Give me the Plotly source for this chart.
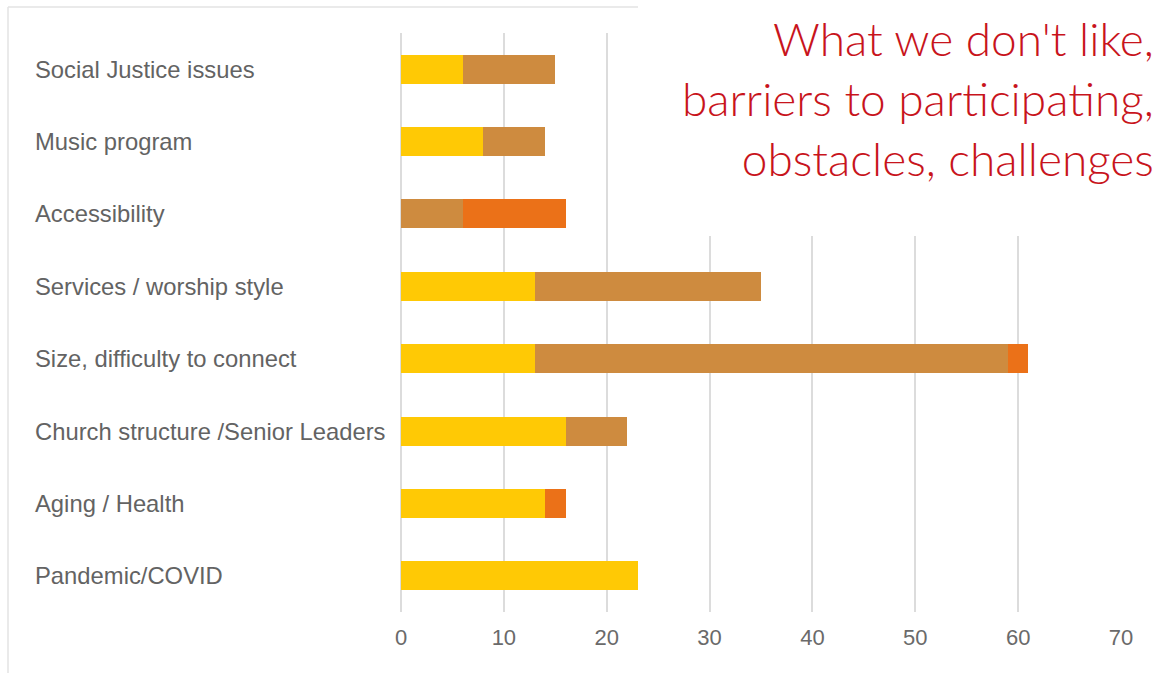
import plotly.graph_objects as go

categories = [
    "Social Justice issues",
    "Music program",
    "Accessibility",
    "Services / worship style",
    "Size, difficulty to connect",
    "Church structure /Senior Leaders",
    "Aging / Health",
    "Pandemic/COVID",
]
series_a = [6, 8, 0, 13, 13, 16, 14, 23]
series_b = [9, 6, 6, 22, 46, 6, 0, 0]
series_c = [0, 0, 10, 0, 2, 0, 2, 0]
series_names = ["Series 1", "Series 2", "Series 3"]
series_colors = ["#FFC905", "#CE8B3F", "#EB7118"]
x_ticks = [0, 10, 20, 30, 40, 50, 60, 70]
title_lines = ["What we don't like,", "barriers to participating,", "obstacles, challenges"]

W, H = 1158, 673
L, R, T, B = 401, 1121, 33, 612

fig = go.Figure()
for name, vals, col in zip(series_names, [series_a, series_b, series_c], series_colors):
    fig.add_trace(go.Bar(
        y=categories, x=vals, name=name, orientation="h",
        marker=dict(color=col, line=dict(width=0)),
    ))

def px(xp):
    return (xp - L) / (R - L)

def py(yp):
    return (B - yp) / (B - T)

shapes = [
    # card border
    dict(type="line", xref="paper", yref="paper", x0=px(8), x1=px(640), y0=py(7), y1=py(7),
         line=dict(color="#e3e3e3", width=1.5), layer="below"),
    dict(type="line", xref="paper", yref="paper", x0=px(8), x1=px(8), y0=py(7), y1=py(673),
         line=dict(color="#e3e3e3", width=1.5), layer="below"),
    # title background box
    dict(type="rect", xref="paper", yref="paper", x0=px(638), x1=px(1160), y0=py(-2), y1=py(236),
         fillcolor="white", line=dict(width=0), layer="above"),
]

annotations = []
for c in categories:
    annotations.append(dict(
        x=0, xref="paper", y=c, yref="y", text=c, showarrow=False,
        xanchor="left", yanchor="middle", xshift=33 - L,
        font=dict(family="Liberation Sans, Arial", size=23.8, color="#636363"),
    ))
annotations.append(dict(
    x=px(1156), xref="paper", y=py(9), yref="paper",
    text="<br>".join(title_lines), showarrow=False,
    xanchor="right", yanchor="top", align="right",
    font=dict(family="Lato, Open Sans, sans-serif", size=46, color="#C8141C", weight=300),
))

fig.update_layout(
    width=W, height=H,
    margin=dict(l=L, r=W - R, t=T, b=H - B),
    barmode="stack", bargap=0.6,
    plot_bgcolor="white", paper_bgcolor="white",
    showlegend=False,
    shapes=shapes, annotations=annotations,
    xaxis=dict(
        range=[0, 70], tickvals=x_ticks, showgrid=True, gridcolor="#dcdcdc", gridwidth=1.5,
        zeroline=True, zerolinecolor="#dcdcdc", zerolinewidth=1.5,
        tickfont=dict(family="Liberation Sans, Arial", size=22, color="#6a6a6a"),
        ticks="", ticklabelstandoff=10,
    ),
    yaxis=dict(
        categoryorder="array", categoryarray=categories, autorange="reversed",
        showticklabels=False, showgrid=False, zeroline=False,
    ),
)

fig.write_html(
    "out.html",
    config={"displayModeBar": False},
    post_script="document.body.style.margin='0';document.body.style.overflow='hidden';",
)
